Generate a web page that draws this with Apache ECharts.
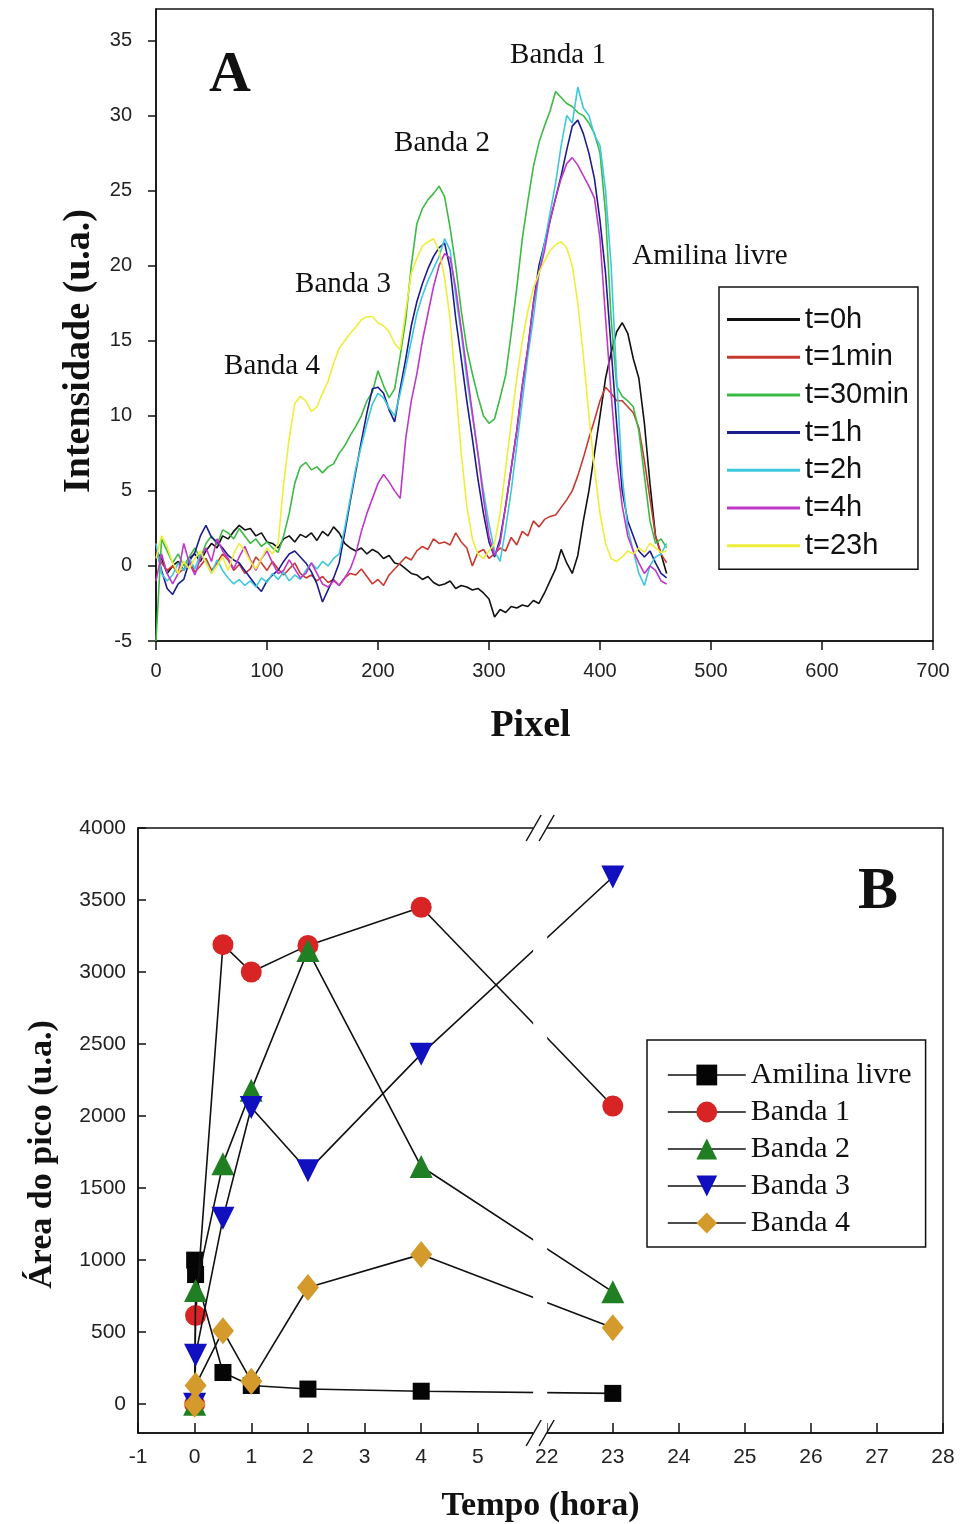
<!DOCTYPE html>
<html><head><meta charset="utf-8">
<script src="https://cdn.jsdelivr.net/npm/echarts@6/dist/echarts.min.js"></script>
<style>html,body{margin:0;padding:0;background:#fff}#main{width:960px;height:1524px}</style>
</head><body><div id="main"></div>
<script>
// ---------- Chart A data ----------
const PIXEL = [0,5,10,15,20,25,30,35,40,45,50,55,60,65,70,75,80,85,90,95,100,105,110,115,120,125,130,135,140,145,150,155,160,165,170,175,180,185,190,195,200,205,210,215,220,225,230,235,240,245,250,255,260,265,270,275,280,285,290,295,300,305,310,315,320,325,330,335,340,345,350,355,360,365,370,375,380,385,390,395,400,405,410,415,420,425,430,435,440,445,450,455,460];
const SPECTRA_NAMES = ['t=0h','t=1min','t=30min','t=1h','t=2h','t=4h','t=23h'];
const T0H = [1.0,0.5,-0.5,0.0,0.3,-0.3,0.5,0.8,0.3,1.0, 1.5,1.2,2.0,1.8,2.3,2.7,2.4,2.5,2.0,2.2, 1.6,1.5,1.2,1.8,2.0,1.6,2.1,1.9,2.2,1.7, 2.3,2.0,2.6,2.2,1.5,1.2,1.0,1.2,0.8,1.1, 0.9,0.5,0.7,0.2,0.1,-0.2,-0.5,-0.6,-0.9,-0.7, -1.1,-1.3,-1.2,-1.0,-1.5,-1.3,-1.4,-1.6,-1.5,-1.8, -2.2,-3.4,-2.9,-3.1,-2.7,-2.8,-2.6,-2.7,-2.3,-2.5, -1.8,-1.0,-0.2,1.1,0.2,-0.5,0.7,3.0,5.0,7.5, 10.0,12.5,14.2,15.6,16.2,15.5,13.8,12.5,9.5,5.5, 2.0,0.8,-0.5];
const T1MIN = [1.0,0.2,-0.3,0.0,-0.5,-0.2,0.3,-0.4,0.0,0.5, -0.3,0.2,0.8,0.4,-0.3,0.1,-0.5,-0.2,0.6,0.2, -0.3,0.3,-0.2,-0.6,-0.2,0.2,-0.5,-0.8,-0.6,-1.0, -0.7,-1.1,-0.9,-1.3,-0.8,-0.5,-0.6,-0.2,-0.7,-1.2, -0.9,-1.3,-0.6,-0.2,0.2,0.6,0.4,1.0,1.3,1.1, 1.8,1.5,1.6,1.4,2.2,1.6,1.2,0.0,0.9,1.1, 0.5,0.8,1.2,1.0,1.9,1.4,2.3,2.0,3.0,2.6, 3.1,3.3,3.4,3.9,4.4,5.0,6.0,7.2,8.5,9.7, 11.0,11.9,11.5,11.0,11.0,10.6,10.2,9.2,7.0,4.5, 2.0,0.8,0.2];
const T30MIN = [-5.0,1.8,1.0,0.2,0.8,0.0,0.6,1.2,0.5,1.5, 2.0,1.4,2.4,2.2,1.8,2.5,2.0,1.5,1.8,1.3, 1.6,1.2,0.9,2.0,3.5,5.5,6.6,6.9,6.4,6.6, 6.2,6.6,6.8,7.5,8.0,8.7,9.3,10.0,11.0,11.6, 13.0,12.0,11.2,11.8,14.0,16.4,20.0,22.8,23.8,24.4, 24.8,25.3,24.6,22.5,20.0,17.0,14.5,12.8,11.3,10.0, 9.5,9.8,11.2,12.7,15.5,18.5,21.8,24.3,26.6,28.2, 29.3,30.3,31.6,31.2,30.8,30.6,30.2,30.0,29.5,28.8, 27.5,23.5,16.5,12.0,11.3,11.0,10.6,9.0,6.0,3.0, 1.5,1.8,1.2];
const T1H = [1.2,-0.3,-1.5,-1.9,-1.2,-0.9,0.3,0.9,2.0,2.7, 1.9,1.6,1.2,0.7,0.4,0.2,-0.3,-0.8,-1.3,-1.7, -1.0,-0.6,-0.3,0.3,0.8,1.0,0.6,0.2,-0.4,-1.2, -2.4,-1.6,-0.8,0.2,2.2,4.3,6.3,8.3,10.2,11.8, 11.9,11.5,10.4,9.6,11.8,13.8,16.0,17.6,18.8,19.8, 20.6,21.2,21.5,19.8,16.5,13.8,11.0,8.5,5.8,3.5, 1.6,0.6,1.8,4.0,6.5,9.0,12.0,14.5,17.5,20.0, 21.5,23.0,24.5,26.0,27.7,29.3,29.7,28.8,27.5,25.8, 23.0,19.5,14.5,9.5,5.0,3.0,2.0,1.0,0.6,1.0, 0.2,-0.5,-0.8];
const T2H = [1.5,-0.5,-1.0,-0.6,0.2,-0.3,0.5,-0.2,0.8,0.3, -0.5,0.4,-0.3,-0.8,-1.2,-0.9,-1.3,-1.0,-1.4,-0.8, -1.1,-0.5,-0.9,-0.4,-1.0,-0.6,-0.9,-0.3,0.2,-0.2, 0.3,0.0,0.5,0.8,2.5,4.5,6.5,8.0,9.5,10.8, 11.5,11.2,10.5,10.0,11.5,13.2,15.0,16.8,18.0,19.0, 19.8,20.6,21.8,21.0,18.0,15.5,12.5,10.0,7.5,5.0, 2.8,1.0,0.3,2.5,5.0,8.0,11.0,14.0,16.5,19.5, 21.5,23.5,25.5,28.0,30.0,29.5,31.9,30.5,30.0,28.7, 28.0,25.0,20.0,12.5,6.0,2.5,1.0,-0.5,-1.3,0.0, 0.6,0.8,1.5];
const T4H = [-1.0,0.8,-0.5,-1.2,-0.5,1.5,0.2,-0.6,0.5,1.2, 0.3,1.8,1.0,0.5,-0.2,0.6,1.3,0.4,-0.3,0.5, 1.0,0.2,-0.5,-0.3,0.4,-0.2,-0.8,-0.5,0.2,-0.5, -1.2,-1.4,-1.0,-1.3,-0.8,-0.2,0.8,2.3,3.5,4.5, 5.5,6.1,5.6,5.0,4.5,8.5,11.0,12.8,15.0,16.8, 18.6,20.0,20.8,20.5,18.5,15.8,13.0,10.2,7.5,4.5, 2.0,0.7,1.5,4.0,6.5,9.0,12.0,14.5,17.5,19.5, 21.0,23.0,24.5,25.8,26.8,27.2,26.7,26.0,25.3,24.5, 21.8,16.5,11.5,7.0,4.0,2.0,1.0,0.2,-0.5,0.0, -0.3,-1.0,-1.2];
const T23H = [0.5,2.0,1.3,0.2,-0.5,0.3,-0.2,0.5,1.0,0.2, -0.5,0.0,0.6,-0.3,0.8,1.5,1.0,0.3,-0.2,0.5, 1.2,0.8,1.5,5.5,8.5,10.8,11.3,11.0,10.3,10.6, 11.5,12.3,13.5,14.5,15.0,15.5,15.9,16.4,16.6,16.6, 16.2,16.0,15.6,14.8,14.4,17.0,19.5,20.5,21.3,21.6, 21.8,21.0,19.2,16.4,12.0,7.5,4.0,1.8,0.8,0.5, 1.0,1.5,3.5,6.5,9.5,12.5,15.0,17.0,18.5,19.5, 20.3,21.0,21.4,21.6,21.2,20.0,17.5,14.0,10.0,6.5, 3.5,1.5,0.5,0.3,0.6,1.0,0.8,1.2,0.9,1.5, 1.2,0.9,1.0];
const A_X_TICKS = [0,100,200,300,400,500,600,700];
const A_Y_TICKS = [-5,0,5,10,15,20,25,30,35];

// ---------- Chart B data ----------
const TEMPO = [0, 0.0167, 0.5, 1, 2, 4, 23];
const BAND_NAMES = ['Amilina livre','Banda 1','Banda 2','Banda 3','Banda 4'];
const AMILINA = [1000, 900, 220, 130, 105, 90, 75];
const BANDA1 = [0, 615, 3190, 3000, 3185, 3450, 2070];
const BANDA2 = [0, 790, 1670, 2180, 3150, 1650, 780];
const BANDA3 = [0, 340, 1290, 2060, 1620, 2430, 3660];
const BANDA4 = [0, 130, 510, 160, 810, 1040, 530];
const B_X_TICKS = [-1,0,1,2,3,4,5,22,23,24,25,26,27,28];
const B_Y_TICKS = [0,500,1000,1500,2000,2500,3000,3500,4000];

// broken time axis: [-1, 6.1] then [21.9, 28] drawn with a wider hour spacing
const BREAK_LO = 6.1, BREAK_HI = 21.9, RIGHT_SCALE = 1.166;
function brk(t){ return t <= BREAK_LO ? t : BREAK_LO + (t - BREAK_HI) * RIGHT_SCALE; }
function unbrk(d){ return d <= BREAK_LO ? d : BREAK_HI + (d - BREAK_LO) / RIGHT_SCALE; }

const SANS = "'Liberation Sans', Arial, sans-serif";
const SERIF = "'Liberation Serif', 'Times New Roman', serif";
const INK = '#111';
const TICKTXT = '#222';

const spectra = [T0H, T1MIN, T30MIN, T1H, T2H, T4H, T23H];
const colorsA = ['#111111', '#c83a30', '#3cba44', '#1c1c8e', '#3ec8dc', '#bf38c8', '#eeee3a'];

const bands = [AMILINA, BANDA1, BANDA2, BANDA3, BANDA4];
const colorsB = ['#050505', '#d82424', '#1f7f22', '#1010c0', '#d49a2c'];
const symbolsB = ['rect', 'circle', 'triangle', 'triangle', 'diamond'];
const sizesB = [17, 21, 23, 23, [22, 27]];
const rotB = [0, 0, 0, 180, 0];

const axisLineStyle = {color: INK, width: 1.5};

const seriesA = spectra.map((arr, k) => ({
  type: 'line', name: SPECTRA_NAMES[k], xAxisIndex: 0, yAxisIndex: 0,
  data: PIXEL.map((x, i) => [x, arr[i]]),
  symbol: 'none', lineStyle: {width: 1.6, color: colorsA[k]}, itemStyle: {color: colorsA[k]},
  z: 2 + k * 0.01
}));

const seriesB = bands.map((arr, k) => ({
  type: 'line', name: BAND_NAMES[k], xAxisIndex: 1, yAxisIndex: 1,
  data: TEMPO.map((t, i) => [brk(t), arr[i]]),
  symbol: symbolsB[k], symbolSize: sizesB[k], symbolRotate: rotB[k], showSymbol: true,
  lineStyle: {width: 1.6, color: INK},
  itemStyle: {color: colorsB[k]},
  z: 3 + k
}));

const annot = (id, text, x, y, size, bold) => ({
  type: 'text', id, x, y, z: 60,
  style: {text, fill: INK, font: (bold ? 'bold ' : '') + size + 'px ' + SERIF,
          textAlign: 'center', textVerticalAlign: 'middle', align: 'center', verticalAlign: 'middle'}
});

const option = {
  animation: false,
  backgroundColor: '#fff',
  grid: [
    {left: 156, right: 27, top: 9, bottom: 883, show: true, borderColor: INK, borderWidth: 1.5},
    {left: 138, right: 17, top: 828, bottom: 91, show: true, borderColor: INK, borderWidth: 1.5}
  ],
  xAxis: [
    {type: 'value', gridIndex: 0, min: 0, max: 700, interval: 100,
     name: 'Pixel', nameLocation: 'middle', nameGap: 66,
     nameTextStyle: {fontFamily: SERIF, fontWeight: 'bold', fontSize: 38, color: INK, padding: [0, 28, 0, 0]},
     axisLine: {show: true, onZero: false, lineStyle: axisLineStyle},
     axisTick: {show: true, inside: false, length: 9, lineStyle: axisLineStyle},
     axisLabel: {margin: 20, fontFamily: SANS, fontSize: 20, color: TICKTXT},
     splitLine: {show: false}},
    {type: 'value', gridIndex: 1, min: brk(-1), max: brk(28),
     name: 'Tempo (hora)', nameLocation: 'middle', nameGap: 56,
     nameTextStyle: {fontFamily: SERIF, fontWeight: 'bold', fontSize: 34, color: INK},
     axisLine: {show: true, onZero: false, lineStyle: axisLineStyle},
     axisTick: {show: true, inside: true, length: 10, lineStyle: axisLineStyle, customValues: B_X_TICKS.map(brk)},
     axisLabel: {margin: 14, fontFamily: SANS, fontSize: 21, color: TICKTXT, customValues: B_X_TICKS.map(brk),
                 formatter: v => String(Math.round(unbrk(v)))},
     splitLine: {show: false}}
  ],
  yAxis: [
    {type: 'value', gridIndex: 0, min: -5, max: 37.1,
     name: 'Intensidade (u.a.)', nameLocation: 'middle', nameGap: 58,
     nameTextStyle: {fontFamily: SERIF, fontWeight: 'bold', fontSize: 38, color: INK, padding: [0, 52, 0, 0]},
     axisLine: {show: true, onZero: false, lineStyle: axisLineStyle},
     axisTick: {show: true, inside: false, length: 8, lineStyle: axisLineStyle, customValues: A_Y_TICKS},
     axisLabel: {margin: 24, fontFamily: SANS, fontSize: 20, color: TICKTXT, customValues: A_Y_TICKS,
                 formatter: v => String(v)},
     splitLine: {show: false}},
    {type: 'value', gridIndex: 1, min: -200, max: 4000,
     name: 'Área do pico (u.a.)', nameLocation: 'middle', nameGap: 79,
     nameTextStyle: {fontFamily: SERIF, fontWeight: 'bold', fontSize: 34, color: INK, padding: [0, 48, 0, 0]},
     axisLine: {show: true, onZero: false, lineStyle: axisLineStyle},
     axisTick: {show: true, inside: true, length: 8, lineStyle: axisLineStyle, customValues: B_Y_TICKS},
     axisLabel: {margin: 12, fontFamily: SANS, fontSize: 21, color: TICKTXT, customValues: B_Y_TICKS,
                 formatter: v => String(v)},
     splitLine: {show: false}}
  ],
  legend: [
    {data: SPECTRA_NAMES, orient: 'vertical', left: 719, top: 287, icon: 'rect',
     itemWidth: 73, itemHeight: 3, itemGap: 8.7, padding: [18, 9, 9, 8],
     borderColor: INK, borderWidth: 1.5, backgroundColor: '#fff',
     textStyle: {fontFamily: SANS, fontSize: 29, lineHeight: 29, color: INK}},
    {data: BAND_NAMES, orient: 'vertical', left: 647, top: 1040,
     itemWidth: 78, itemHeight: 26, itemGap: 7, padding: [20, 14, 9, 20],
     borderColor: INK, borderWidth: 1.5, backgroundColor: '#fff',
     lineStyle: {width: 1.6},
     textStyle: {fontFamily: SERIF, fontSize: 30, lineHeight: 30, color: INK}}
  ],
  graphic: {elements: [
    annot('labA', 'A', 230, 76, 58, true),
    annot('b1', 'Banda 1', 558, 55, 29, false),
    annot('b2', 'Banda 2', 442, 143, 29, false),
    annot('b3', 'Banda 3', 343, 284, 29, false),
    annot('b4', 'Banda 4', 272, 366, 29, false),
    annot('am', 'Amilina livre', 710, 256, 29, false),
    annot('labB', 'B', 878, 892, 60, true)
  ]},
  series: seriesA.concat(seriesB)
};

const chart = echarts.init(document.getElementById('main'), null, {renderer: 'canvas'});
chart.setOption(option);

// break decoration on the time axis, placed from the axis scales
const gx = chart.convertToPixel({xAxisIndex: 1}, BREAK_LO);
const yTop = chart.convertToPixel({yAxisIndex: 1}, 4000);
const yBot = chart.convertToPixel({yAxisIndex: 1}, -200);
const slash = (id, cx, cy) => ({
  type: 'line', id, z: 70,
  shape: {x1: cx - 7.5, y1: cy + 13, x2: cx + 7.5, y2: cy - 13},
  style: {stroke: INK, lineWidth: 1.5}
});
chart.setOption({graphic: {elements: [
  {type: 'rect', id: 'gap', z: 65, shape: {x: gx - 7, y: yTop - 2, width: 14, height: yBot - yTop + 4},
   style: {fill: '#fff'}},
  slash('s1', gx - 6.5, yTop), slash('s2', gx + 6.5, yTop),
  slash('s3', gx - 6.5, yBot), slash('s4', gx + 6.5, yBot)
]}});
</script></body></html>
